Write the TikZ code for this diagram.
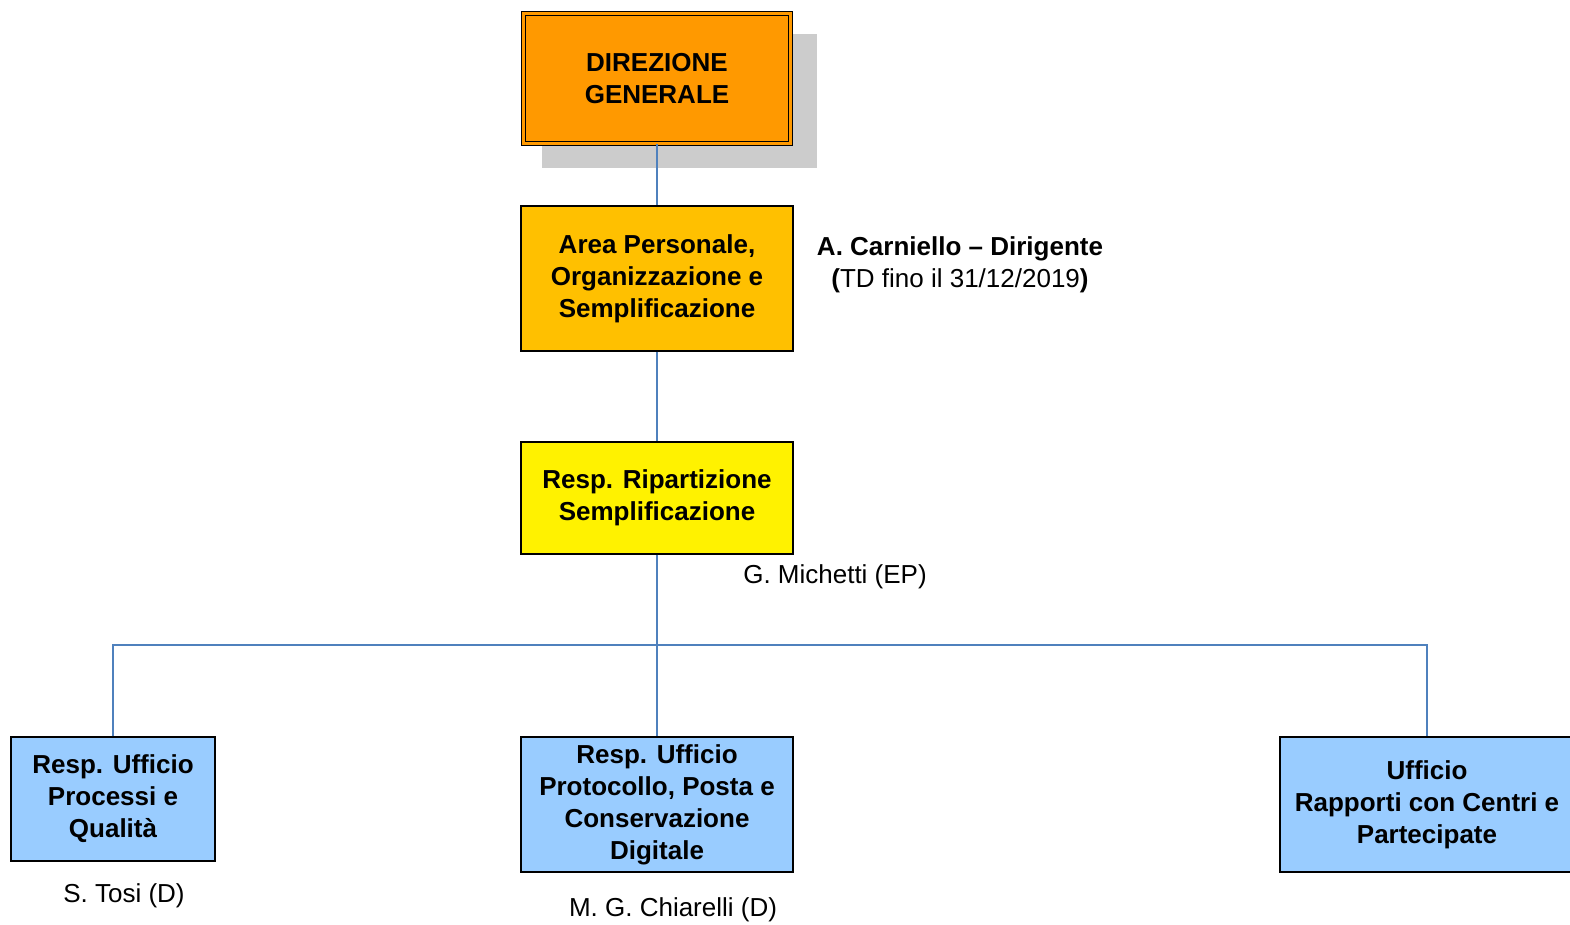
\documentclass[tikz,border=0pt]{standalone}
\usepackage{fontspec}
\setmainfont{Liberation Sans}
\usetikzlibrary{shadows}
\definecolor{linkblue}{RGB}{79,129,189}
\definecolor{dgorange}{RGB}{255,153,0}
\definecolor{areagold}{RGB}{255,192,0}
\definecolor{ufficioblue}{RGB}{153,204,255}
\begin{document}
\begin{tikzpicture}[x=1pt,y=-1pt,
	box/.style={draw=black, line width=1.2pt, inner sep=0pt, align=center,
		font=\fontsize{26}{32}\selectfont\bfseries},
	who/.style={inner sep=0pt, align=center, font=\fontsize{26}{32}\selectfont},
	link/.style={draw=linkblue, line width=1.5pt}]
	\useasboundingbox (0,0) rectangle (1570,925);
	% vertici
	\node (DG) at (657,78.5) [box, fill=dgorange, minimum width=267, minimum height=130,
		double=dgorange, double distance=2.6pt,
		drop shadow={shadow xshift=22pt, shadow yshift=-22pt, shadow scale=1.03, fill=black!20, opacity=1}]
		{DIREZIONE\\GENERALE};
	\node (APOS) at (657,278.5) [box, fill=areagold, minimum width=272, minimum height=145]
		{Area Personale,\\Organizzazione e\\Semplificazione};
	\node (RS) at (657,498) [box, fill=yellow, minimum width=272, minimum height=112]
		{Resp. Ripartizione\\Semplificazione};
	\node (UPQ) at (113,799) [box, fill=ufficioblue, minimum width=204, minimum height=124]
		{Resp. Ufficio\\Processi e\\Qualità};
	\node (UPPC) at (657,804.5) [box, fill=ufficioblue, minimum width=272, minimum height=135]
		{Resp. Ufficio\\Protocollo, Posta e\\Conservazione\\Digitale};
	\node (URCP) at (1427,804.5) [box, fill=ufficioblue, minimum width=294, minimum height=135]
		{Ufficio\\Rapporti con Centri e\\Partecipate};
	% nomi
	\node (carn) at (960,265) [who] {\textbf{A. Carniello – Dirigente}\\\textbf{(}TD fino il 31/12/2019\textbf{)}};
	\node (mich) at (835,577) [who] {G. Michetti (EP)};
	\node (tosi) at (124,896) [who] {S. Tosi (D)};
	\node (chia) at (673,910) [who] {M. G. Chiarelli (D)};
	% collegamenti
	\coordinate (bus) at (657,645);
	\draw[link] (DG) -- (APOS);
	\draw[link] (APOS) -- (RS);
	\draw[link] (RS) -- (UPPC);
	\draw[link] (UPQ.north) -- (UPQ.north |- bus) -- (URCP.north |- bus) -- (URCP.north);
\end{tikzpicture}
\end{document}
